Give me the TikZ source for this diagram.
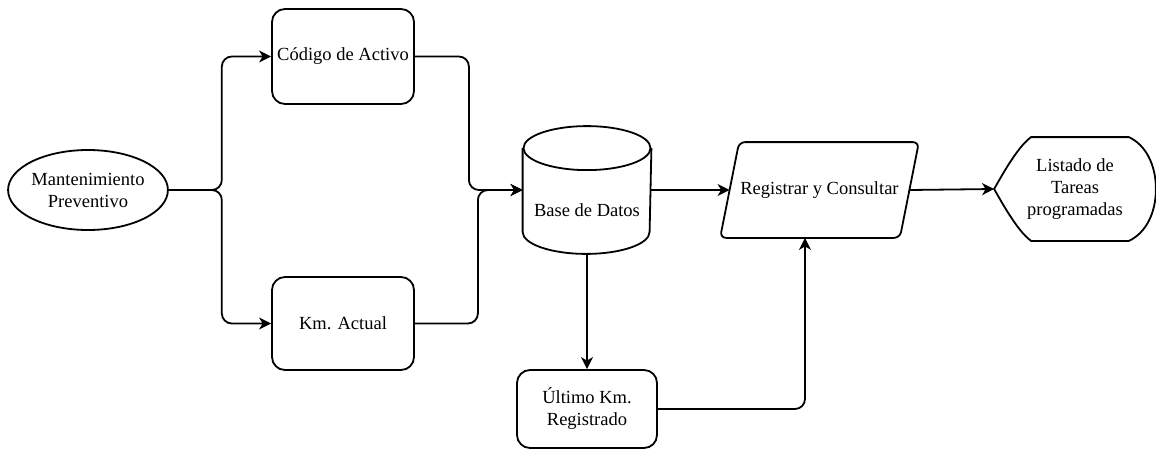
\documentclass[tikz,border=0pt]{standalone}
\usepackage{fontspec}
\setmainfont{Liberation Serif}
\newfontfamily\diagfont{LiberationSerif-Regular.ttf}
\usetikzlibrary{arrows.meta,shapes.geometric,calc}
\begin{document}
\begin{tikzpicture}[x=1pt,y=-1pt,
  line width=1.8pt,
  every node/.style={font=\diagfont\fontsize{18.5}{22}\selectfont, align=center, inner sep=0pt},
  conn/.style={draw, line width=1.8pt, rounded corners=10pt,
    -{Stealth[length=12pt,width=12pt,inset=3.5pt]}},
  proc/.style={draw, rounded corners=13pt, minimum width=142pt, minimum height=95pt},
  term/.style={draw, ellipse, minimum width=158pt, minimum height=80pt},
]
\useasboundingbox (0,0) rectangle (1156,450);

% start point
\node[term] (mp) at (88,190) {Mantenimiento\\Preventivo};

% inputs
\node[proc] (ca) at (343,56.5) {Código de Activo};
\node[proc, minimum height=93pt] (km) at (343,323.5) {Km. Actual};

% database cylinder
\node[minimum width=127pt, minimum height=126pt] (db) at (587,190) {};
\draw ($(db.north west)+(0,22)$) -- ($(db.south west)+(0,-22)$)
  arc[start angle=180, end angle=360, x radius=63.5pt, y radius=22pt]
  -- ($(db.north east)+(0,22)$);
\draw ($(db.north)+(0,22)$) ellipse[x radius=63.5pt, y radius=22pt];
\node at ($(db.center)+(0,20)$) {Base de Datos};

% process (parallelogram)
\node[minimum width=178pt, minimum height=94pt] (rc) at (819.5,190) {Registrar y Consultar};
\draw[rounded corners=6pt] (rc.north) -- ($(rc.north east)+(9.5,0)$)
  -- ($(rc.south east)+(-9.5,0)$) -- ($(rc.south west)+(-9.5,0)$)
  -- ($(rc.north west)+(9.5,0)$) -- (rc.north);

% output (display shape)
\node[minimum width=160pt, minimum height=102pt] (lt) at (1075,189) {Listado de\\Tareas\\programadas};
\draw (lt.west)
  .. controls ($(lt.west)+(7,-12)$) and ($(lt.north west)+(23,10)$) .. ($(lt.north west)+(37,0)$)
  -- ($(lt.north east)+(-27,0)$)
  .. controls ($(lt.north east)+(-10,8)$) and ($(lt.east)+(0,-24)$) .. (lt.east)
  .. controls ($(lt.east)+(0,24)$) and ($(lt.south east)+(-10,-8)$) .. ($(lt.south east)+(-27,0)$)
  -- ($(lt.south west)+(37,0)$)
  .. controls ($(lt.south west)+(23,-10)$) and ($(lt.west)+(7,12)$) .. (lt.west) -- cycle;

% last recorded km
\node[proc, minimum width=140pt, minimum height=78pt] (ul) at (587,409) {Último Km.\\Registrado};

% connectors
\draw[conn] (mp.east) -- ([xshift=53pt]mp.east) |- (ca.west);
\draw[conn] (mp.east) -- ([xshift=53pt]mp.east) |- (km.west);
\draw[conn] (ca.east) -- ([xshift=54pt]ca.east) |- (db.west);
\draw[conn] (km.east) -- ([xshift=63pt]km.east) |- (db.west);
\draw[conn] (db.east) -- (rc.west);
\draw[conn] (rc.east) -- (lt.west);
\draw[conn] (db.south) -- (ul.north);
\draw[conn] (ul.east) -| ([xshift=-14.5pt]rc.south);
\end{tikzpicture}
\end{document}
